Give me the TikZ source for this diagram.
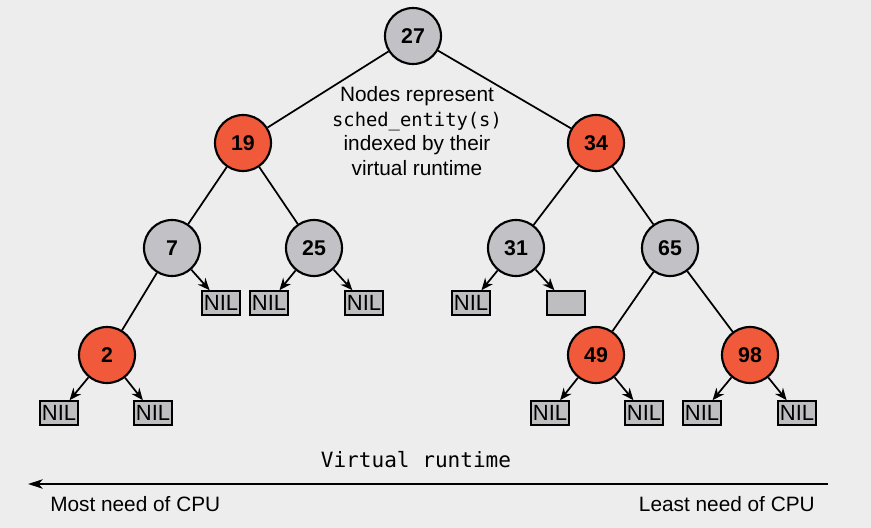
\documentclass[tikz,border=0pt]{standalone}
\usepackage{fontspec}
\setmainfont{Liberation Sans}
\newfontfamily\codefont{DejaVu Sans Mono}
\usetikzlibrary{arrows.meta}
\definecolor{rbred}{HTML}{F05A3A}
\definecolor{rbgray}{HTML}{C2C2C6}
\definecolor{nilgray}{HTML}{BEBEC0}
\definecolor{bggray}{HTML}{EDEDED}
\begin{document}
\begin{tikzpicture}[
% one unit = one pixel of the reference
  x=0.75pt, y=-0.75pt,
  basic/.style = {circle, draw, line width=1.6pt, minimum size=42pt, inner sep=0pt,
    font=\fontsize{16}{18}\selectfont\bfseries},
  red node/.style = {basic, fill=rbred},
  black node/.style = {basic, fill=rbgray},
  nil/.style = {draw, line width=1.7pt, fill=nilgray, minimum width=29pt,
    minimum height=17.5pt, inner sep=0pt, font=\fontsize{16.5}{18}\selectfont},
  link/.style = {line width=1.3pt},
  nil link/.style = {link, -{Stealth[length=9pt, width=7.5pt]}},
  label/.style = {inner sep=0pt, font=\fontsize{15.6}{18.4}\selectfont},
]
  \fill[bggray] (0,0) rectangle (871,528);
  \useasboundingbox (0,0) rectangle (871,528);

  % tree nodes
  \node[black node] (n27) at (413,36)  {27};
  \node[red node]   (n19) at (243,143) {19};
  \node[red node]   (n34) at (596,143) {34};
  \node[black node] (n7)  at (172,248) {7};
  \node[black node] (n25) at (314,248) {25};
  \node[black node] (n31) at (516,248) {31};
  \node[black node] (n65) at (670,248) {65};
  \node[red node]   (n2)  at (107,355) {2};
  \node[red node]   (n49) at (596,355) {49};
  \node[red node]   (n98) at (750,355) {98};

  % leaves
  \node[nil] (nil7r)  at (221,303) {NIL};
  \node[nil] (nil25l) at (269,303) {NIL};
  \node[nil] (nil25r) at (364,303) {NIL};
  \node[nil] (nil31l) at (471,303) {NIL};
  \node[nil] (nil31r) at (566,303) {};
  \node[nil] (nil2l)  at (59,413)  {NIL};
  \node[nil] (nil2r)  at (153,413) {NIL};
  \node[nil] (nil49l) at (550,413) {NIL};
  \node[nil] (nil49r) at (644,413) {NIL};
  \node[nil] (nil98l) at (702,413) {NIL};
  \node[nil] (nil98r) at (797,413) {NIL};

  \foreach \a/\b in {n27/n19, n27/n34, n19/n7, n19/n25, n7/n2,
                     n34/n31, n34/n65, n65/n49, n65/n98}
    \draw[link] (\a) -- (\b);
  \foreach \a/\b in {n7/nil7r, n25/nil25l, n25/nil25r, n31/nil31l, n31/nil31r,
                     n2/nil2l, n2/nil2r, n49/nil49l, n49/nil49r, n98/nil98l, n98/nil98r}
    \draw[nil link] (\a) -- (\b);

  \node[label, align=center] (note) at (417,131) {%
    Nodes represent\\%
    {\codefont\fontsize{14.1}{18.4}\selectfont sched\_entity(s)}\\%
    indexed by their\\%
    virtual runtime%
  };

  % runtime axis
  \coordinate (axisR) at (828,484);
  \coordinate (axisL) at (28,484);
  \draw[link, -{Stealth[length=11pt, width=7pt, inset=3pt]}] (axisR) -- (axisL);
  \node[label, anchor=base, font=\codefont\fontsize{15.8}{18}\selectfont]
    (runtime) at (416,467) {Virtual runtime};
  \node[label, anchor=base west] (most) at (50,511) {Most need of CPU};
  \node[label, anchor=base east] (least) at (815,511) {Least need of CPU};
\end{tikzpicture}
\end{document}
